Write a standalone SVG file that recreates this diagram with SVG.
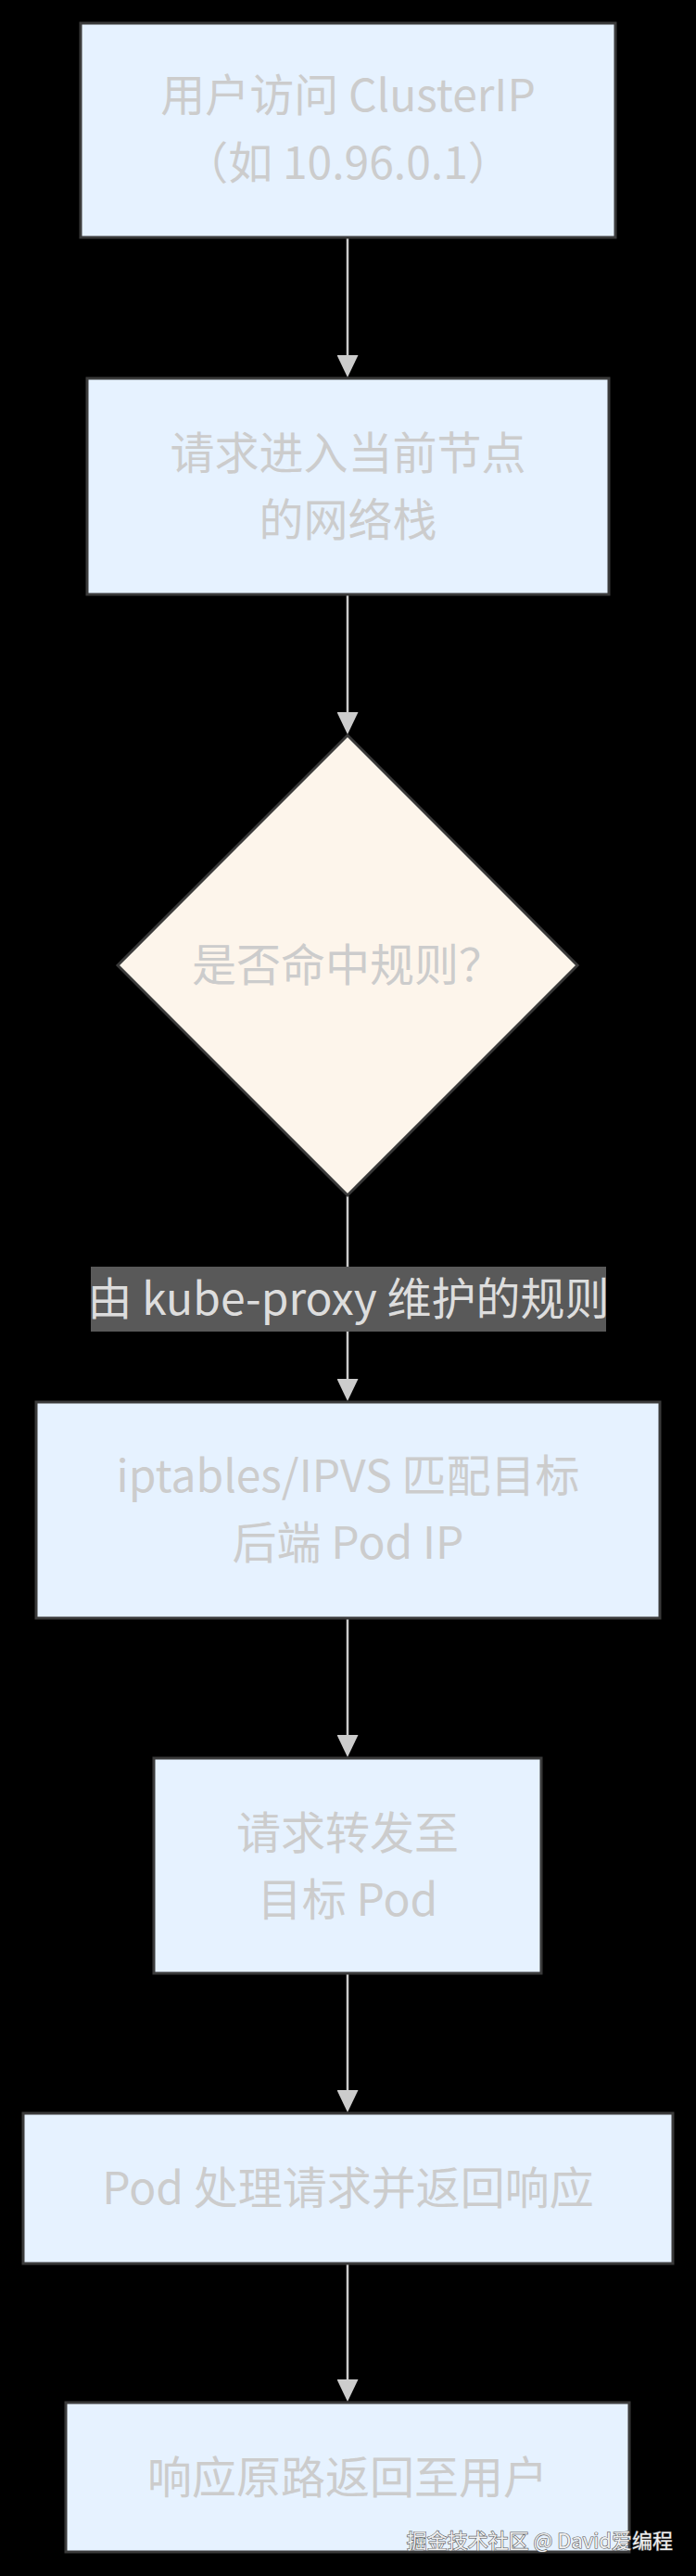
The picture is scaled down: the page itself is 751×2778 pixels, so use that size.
<svg xmlns="http://www.w3.org/2000/svg" width="751" height="2778" viewBox="0 0 751 2778">
<style>
.node rect, .node polygon { stroke: #3a3a3a; stroke-width: 3; }
.proc { fill: #e6f2ff; }
.dec { fill: #fdf5eb; }
.t { font-family: "Noto Sans CJK SC", "Noto Sans", sans-serif; font-size: 48px; fill: #cccccc; text-anchor: middle; dominant-baseline: central; }
.edge { stroke: #cccccc; stroke-width: 2.5; fill: none; }
.lbl { fill: #595959; }
.lt { fill: #dddddd; }
.wm { font-family: "Noto Sans CJK SC", sans-serif; font-size: 22px; fill: #f0f0f0; text-anchor: end; stroke: #555; stroke-width: 1.2; paint-order: stroke; }
</style>
<defs>
<marker id="arr" markerUnits="userSpaceOnUse" viewBox="0 0 24 23" markerWidth="24" markerHeight="23" refX="20" refY="11.5" orient="auto">
<path d="M0,0 L24,11.5 L0,23 z" fill="#cccccc"/>
</marker>
</defs>
<rect x="0" y="0" width="751" height="2778" fill="#000000"/>
<g id="connectors">
<line class="edge" x1="375" y1="257" x2="375" y2="403" marker-end="url(#arr)"/>
<line class="edge" x1="375" y1="641" x2="375" y2="788" marker-end="url(#arr)"/>
<line class="edge" x1="375" y1="1290" x2="375" y2="1507" marker-end="url(#arr)"/>
<line class="edge" x1="375" y1="1746" x2="375" y2="1891" marker-end="url(#arr)"/>
<line class="edge" x1="375" y1="2129" x2="375" y2="2274" marker-end="url(#arr)"/>
<line class="edge" x1="375" y1="2442" x2="375" y2="2586" marker-end="url(#arr)"/>
<g id="edge-label">
<rect class="lbl" x="98" y="1366" width="556" height="70"/>
<text class="t lt" x="376" y="1397">由 kube-proxy 维护的规则</text>
</g>
</g>
<g id="n1" class="node">
<rect class="proc" x="87" y="25" width="577" height="231"/>
<text class="t" x="375.5" y="99">用户访问 ClusterIP</text>
<text class="t" x="375.5" y="172">（如 10.96.0.1）</text>
</g>
<g id="n2" class="node">
<rect class="proc" x="94" y="408" width="563" height="233"/>
<text class="t" x="375.5" y="485">请求进入当前节点</text>
<text class="t" x="375.5" y="557">的网络栈</text>
</g>
<g id="n3" class="node">
<polygon class="dec" points="375,793 623,1041 375,1289 127,1041"/>
<text class="t" x="375" y="1037">是否命中规则？</text>
</g>
<g id="n4" class="node">
<rect class="proc" x="39" y="1512" width="673" height="233"/>
<text class="t" x="375.5" y="1588">iptables/IPVS 匹配目标</text>
<text class="t" x="375.5" y="1660">后端 Pod IP</text>
</g>
<g id="n5" class="node">
<rect class="proc" x="166" y="1896" width="418" height="232"/>
<text class="t" x="375" y="1973">请求转发至</text>
<text class="t" x="375" y="2045">目标 Pod</text>
</g>
<g id="n6" class="node">
<rect class="proc" x="25" y="2279" width="701" height="162"/>
<text class="t" x="375.5" y="2356">Pod 处理请求并返回响应</text>
</g>
<g id="n7" class="node">
<rect class="proc" x="71" y="2591" width="608" height="161"/>
<text class="t" x="375" y="2668">响应原路返回至用户</text>
</g>
<text class="wm" x="726" y="2748">掘金技术社区 @ David爱编程</text>
</svg>
